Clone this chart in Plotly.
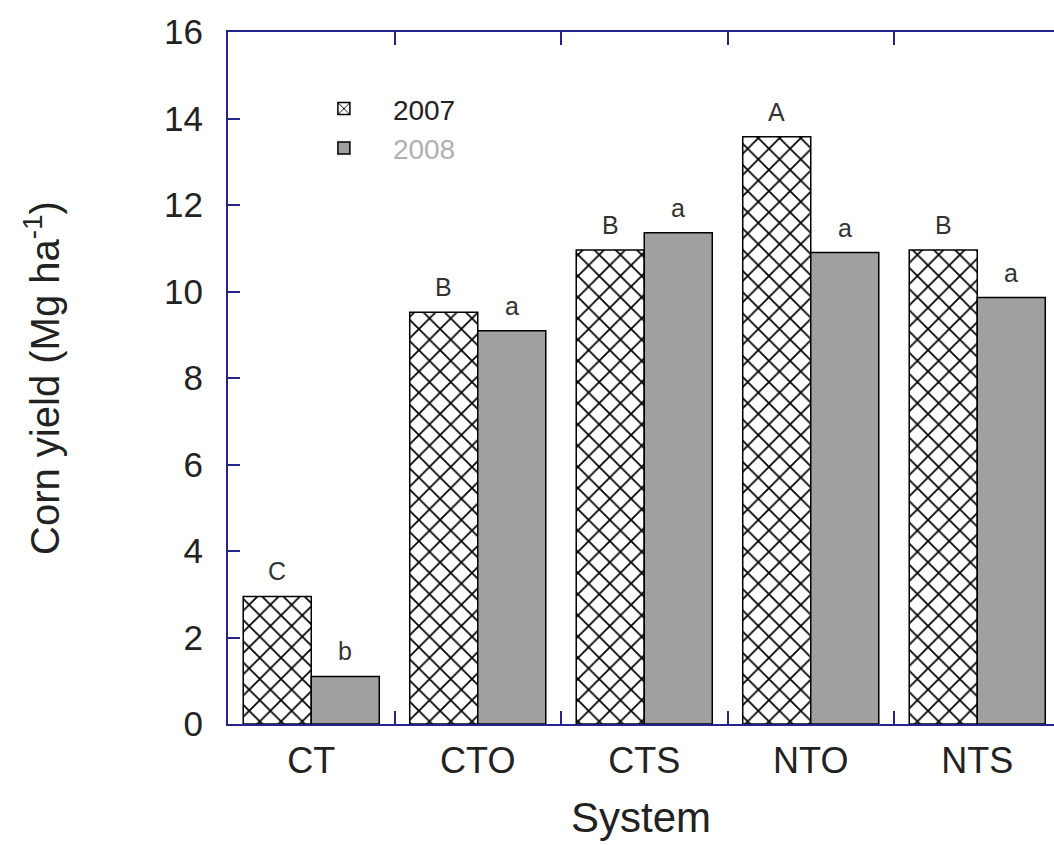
import plotly.graph_objects as go

systems = ["CT", "CTO", "CTS", "NTO", "NTS"]
yield_2007 = [2.95, 9.52, 10.96, 13.58, 10.96]
yield_2008 = [1.10, 9.09, 11.36, 10.90, 9.86]
letters_2007 = ["C", "B", "B", "A", "B"]
letters_2008 = ["b", "a", "a", "a", "a"]
y_ticks = [0, 2, 4, 6, 8, 10, 12, 14, 16]

FONT = "Liberation Sans, Arial, sans-serif"
NAVY = "#24248c"
TXT = "#222222"
BAR_W = 0.41

fig = go.Figure()
fig.add_trace(go.Bar(
    x=systems, y=yield_2007, name="2007",
    marker=dict(color="white", line=dict(color="black", width=1.5),
                pattern=dict(shape="x", size=15, solidity=0.22, fillmode="replace",
                             fgcolor="#000000", fgopacity=1, bgcolor="white")),
))
fig.add_trace(go.Bar(
    x=systems, y=yield_2008, name="<span style='color:#b0b0b0'>2008</span>",
    marker=dict(color="#a0a0a0", line=dict(color="black", width=1.5)),
))

annotations = []
for i, (v1, v2, l1, l2) in enumerate(zip(yield_2007, yield_2008, letters_2007, letters_2008)):
    for xv, yv, t in ((i - BAR_W / 2, v1, l1), (i + BAR_W / 2, v2, l2)):
        annotations.append(dict(x=xv, y=yv, text=t, showarrow=False, xref="x", yref="y",
                                yanchor="bottom", yshift=9,
                                font=dict(family=FONT, size=25, color="#333333")))

fig.update_layout(
    width=1054, height=845,
    margin=dict(l=228, r=0, t=32, b=121),
    paper_bgcolor="white", plot_bgcolor="white",
    barmode="group", bargap=0.183, bargroupgap=0,
    font=dict(family=FONT, color="black"),
    annotations=annotations,
    showlegend=True,
    legend=dict(x=0.081, y=0.925, xanchor="left", yanchor="top", itemwidth=88,
                bgcolor="rgba(0,0,0,0)", font=dict(family=FONT, size=28, color=TXT),
                traceorder="normal"),
    xaxis=dict(
        type="category", range=[-0.5, -0.5 + 826 / 166.5],
        tickson="boundaries", ticks="inside", ticklen=13, tickwidth=2, tickcolor=NAVY,
        showline=True, linecolor=NAVY, linewidth=2, mirror="ticks",
        showgrid=False, zeroline=False,
        tickfont=dict(family=FONT, size=36, color=TXT), ticklabelstandoff=4,
        title=dict(text="System", font=dict(family=FONT, size=42, color=TXT), standoff=22),
    ),
    yaxis=dict(
        range=[0, 16], tickvals=y_ticks, ticks="inside", ticklen=12, tickwidth=2, tickcolor=NAVY,
        showline=True, linecolor=NAVY, linewidth=2, mirror=False,
        showgrid=False, zeroline=False,
        tickfont=dict(family=FONT, size=35, color=TXT), ticklabelstandoff=16,
        title=dict(text="Corn yield (Mg ha<sup>-1</sup>)",
                   font=dict(family=FONT, size=40, color=TXT), standoff=92),
    ),
    yaxis2=dict(
        overlaying="y", side="right", anchor="x", matches="y", range=[0, 16],
        tickvals=y_ticks, ticks="inside", ticklen=12, tickwidth=2, tickcolor=NAVY,
        showticklabels=False, showline=False, showgrid=False, zeroline=False,
    ),
)

fig.write_html("out.html")
